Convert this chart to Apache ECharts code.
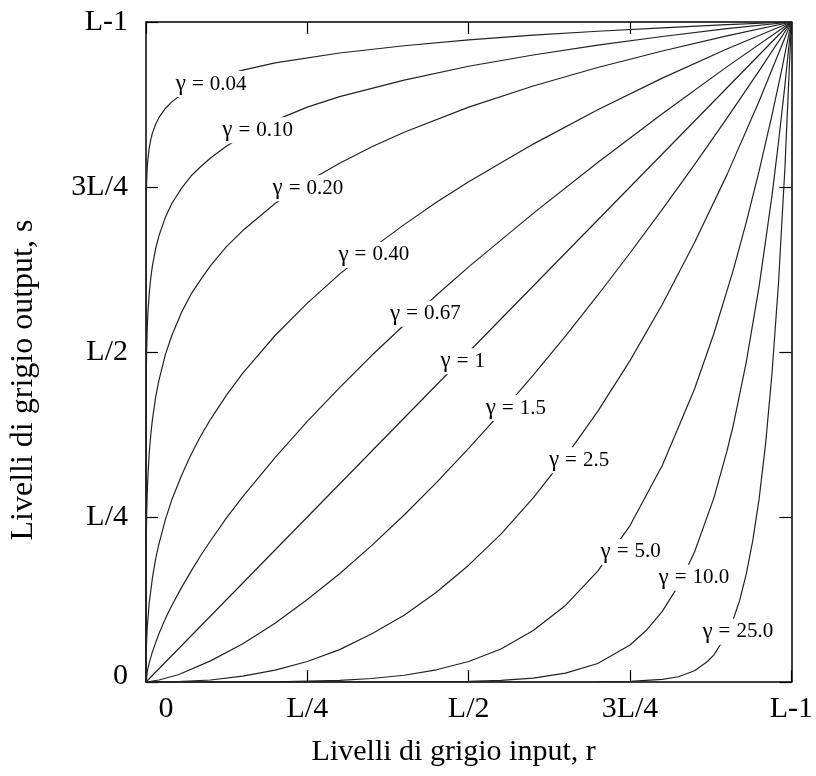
<!DOCTYPE html>
<html>
<head>
<meta charset="utf-8">
<script src="https://cdn.jsdelivr.net/npm/echarts@6/dist/echarts.min.js"></script>
<style>
  html, body { margin: 0; padding: 0; background: #fff; }
  #chart { width: 816px; height: 776px; }
</style>
</head>
<body>
<div id="chart"></div>
<script>
// tick labels (0 .. L-1)
const tickLabels = ['0', 'L/4', 'L/2', '3L/4', 'L-1']

// curves, [r, s] with r, s in 0..1 (1 = L-1)
const g004 = [[0, 0], [0.0005, 0.738], [0.001, 0.758], [0.002, 0.78], [0.003, 0.793], [0.005, 0.809], [0.0075, 0.822], [0.01, 0.832], [0.015, 0.845], [0.02, 0.855], [0.03, 0.869], [0.04, 0.879], [0.055, 0.89], [0.07, 0.899], [0.085, 0.906], [0.1, 0.912], [0.15, 0.927], [0.2, 0.938], [0.3, 0.953], [0.4, 0.964], [0.5, 0.973], [0.6, 0.98], [0.7, 0.986], [0.8, 0.991], [0.9, 0.996], [1, 1]]
const g010 = [[0, 0], [0.0005, 0.468], [0.001, 0.501], [0.002, 0.537], [0.003, 0.56], [0.005, 0.589], [0.0075, 0.613], [0.01, 0.631], [0.015, 0.657], [0.02, 0.676], [0.03, 0.704], [0.04, 0.725], [0.055, 0.748], [0.07, 0.767], [0.085, 0.781], [0.1, 0.794], [0.125, 0.812], [0.15, 0.827], [0.2, 0.851], [0.25, 0.871], [0.3, 0.887], [0.4, 0.912], [0.5, 0.933], [0.6, 0.95], [0.7, 0.965], [0.8, 0.978], [0.9, 0.99], [1, 1]]
const g020 = [[0, 0], [0.0005, 0.219], [0.001, 0.251], [0.002, 0.289], [0.003, 0.313], [0.005, 0.347], [0.0075, 0.376], [0.01, 0.398], [0.015, 0.432], [0.02, 0.457], [0.03, 0.496], [0.04, 0.525], [0.055, 0.56], [0.07, 0.588], [0.085, 0.61], [0.1, 0.631], [0.125, 0.66], [0.15, 0.684], [0.2, 0.725], [0.25, 0.758], [0.3, 0.786], [0.35, 0.811], [0.4, 0.833], [0.5, 0.871], [0.6, 0.903], [0.7, 0.931], [0.8, 0.956], [0.9, 0.979], [1, 1]]
const g040 = [[0, 0], [0.0005, 0.048], [0.001, 0.063], [0.002, 0.083], [0.005, 0.12], [0.01, 0.158], [0.015, 0.187], [0.02, 0.209], [0.03, 0.246], [0.04, 0.276], [0.055, 0.313], [0.07, 0.345], [0.085, 0.373], [0.1, 0.398], [0.125, 0.435], [0.15, 0.468], [0.2, 0.525], [0.25, 0.574], [0.3, 0.618], [0.35, 0.657], [0.4, 0.693], [0.45, 0.727], [0.5, 0.758], [0.6, 0.815], [0.7, 0.867], [0.8, 0.915], [0.9, 0.959], [1, 1]]
const g067 = [[0, 0], [0.002, 0.016], [0.005, 0.029], [0.01, 0.046], [0.02, 0.073], [0.03, 0.096], [0.04, 0.116], [0.055, 0.143], [0.07, 0.168], [0.085, 0.192], [0.1, 0.214], [0.125, 0.249], [0.15, 0.281], [0.2, 0.34], [0.25, 0.395], [0.3, 0.446], [0.35, 0.495], [0.4, 0.541], [0.45, 0.586], [0.5, 0.629], [0.6, 0.71], [0.7, 0.787], [0.8, 0.861], [0.9, 0.932], [1, 1]]
const g100 = [[0, 0], [0.5, 0.5], [1, 1]]
const g150 = [[0, 0], [0.02, 0.003], [0.05, 0.011], [0.1, 0.032], [0.15, 0.058], [0.2, 0.089], [0.25, 0.125], [0.3, 0.164], [0.35, 0.207], [0.4, 0.253], [0.45, 0.302], [0.5, 0.354], [0.55, 0.408], [0.6, 0.465], [0.65, 0.524], [0.7, 0.586], [0.75, 0.65], [0.8, 0.716], [0.85, 0.784], [0.9, 0.854], [0.95, 0.926], [1, 1]]
const g250 = [[0, 0], [0.05, 0.0006], [0.1, 0.003], [0.15, 0.009], [0.2, 0.018], [0.25, 0.031], [0.3, 0.049], [0.35, 0.073], [0.4, 0.101], [0.45, 0.136], [0.5, 0.177], [0.55, 0.224], [0.6, 0.279], [0.65, 0.341], [0.7, 0.41], [0.75, 0.487], [0.8, 0.572], [0.85, 0.666], [0.9, 0.768], [0.95, 0.88], [1, 1]]
const g500 = [[0, 0], [0.1, 0], [0.2, 0.0003], [0.3, 0.0024], [0.35, 0.0053], [0.4, 0.0102], [0.45, 0.0185], [0.5, 0.031], [0.55, 0.05], [0.6, 0.078], [0.65, 0.116], [0.7, 0.168], [0.75, 0.237], [0.8, 0.328], [0.85, 0.444], [0.88, 0.528], [0.91, 0.624], [0.93, 0.696], [0.95, 0.774], [0.97, 0.859], [0.985, 0.927], [1, 1]]
const g1000 = [[0, 0], [0.4, 0.0001], [0.5, 0.001], [0.55, 0.0025], [0.6, 0.006], [0.65, 0.0135], [0.7, 0.028], [0.75, 0.056], [0.775, 0.078], [0.8, 0.107], [0.825, 0.146], [0.85, 0.197], [0.88, 0.279], [0.9, 0.349], [0.91, 0.389], [0.93, 0.484], [0.95, 0.599], [0.97, 0.737], [0.98, 0.817], [0.99, 0.904], [1, 1]]
const g2500 = [[0, 0], [0.6, 0], [0.7, 0.0001], [0.75, 0.0008], [0.8, 0.004], [0.825, 0.008], [0.85, 0.017], [0.87, 0.031], [0.88, 0.041], [0.9, 0.072], [0.91, 0.095], [0.92, 0.124], [0.93, 0.163], [0.94, 0.213], [0.95, 0.277], [0.96, 0.36], [0.97, 0.467], [0.98, 0.603], [0.99, 0.778], [1, 1]]

const curves = [g004, g010, g020, g040, g067, g100, g150, g250, g500, g1000, g2500]

// gamma labels and where they sit
const gammaText = ['0.04', '0.10', '0.20', '0.40', '0.67', '1', '1.5', '2.5', '5.0', '10.0', '25.0']
const gammaPos = [[0.101, 0.906], [0.173, 0.836], [0.251, 0.748], [0.353, 0.647], [0.433, 0.558], [0.491, 0.486], [0.573, 0.415], [0.671, 0.336], [0.751, 0.197], [0.849, 0.158], [0.917, 0.076]]

let font = 'Liberation Serif',
  black = '#000',
  lineCol = '#222'

let chart = echarts.init(document.getElementById('chart'))

let axisBase = (extra) => Object.assign({
  type: 'value',
  min: 0,
  max: 1,
  interval: 0.25,
  splitLine: { show: false },
  axisLine: { show: true, onZero: false, lineStyle: { color: black, width: 1.5 } },
  axisTick: { show: true, inside: true, length: 12, lineStyle: { color: black, width: 1.2 } },
}, extra)

let fmt = (v) => tickLabels[Math.round(v * 4)]

chart.setOption({
  animation: false,
  backgroundColor: '#fff',
  grid: { left: 146, right: 16, top: 22, bottom: 94 },
  xAxis: [
    axisBase({
      position: 'bottom',
      name: 'Livelli di grigio input, r',
      nameLocation: 'middle',
      nameGap: 55,
      nameTextStyle: { fontFamily: font, fontSize: 30, color: black, padding: [0, 30, 0, 0] },
      axisLabel: {
        margin: 12,
        fontFamily: font,
        fontSize: 30,
        color: black,
        formatter: (v) => (v === 0 ? '{z|0}' : fmt(v)),
        rich: { z: { fontFamily: font, fontSize: 30, color: black, padding: [0, 0, 0, 40] } },
      },
    }),
    axisBase({ position: 'top', axisLabel: { show: false } }),
  ],
  yAxis: [
    axisBase({
      position: 'left',
      name: 'Livelli di grigio output, s',
      nameLocation: 'middle',
      nameGap: 106,
      // a bit larger and lower than centre, as in the original
      nameTextStyle: { fontFamily: font, fontSize: 32, color: black, padding: [0, 56, 0, 0] },
      axisLabel: {
        margin: 18,
        fontFamily: font,
        fontSize: 30,
        color: black,
        formatter: (v) => (v === 0 ? '{z|0}' : fmt(v)),
        rich: { z: { fontFamily: font, fontSize: 30, color: black, padding: [0, 0, 12, 0] } },
      },
    }),
    axisBase({ position: 'right', axisLabel: { show: false } }),
  ],
  series: curves.map((d) => ({
    type: 'line',
    data: d,
    symbol: 'none',
    lineStyle: { color: lineCol, width: 1.2 },
    z: 2,
  })).concat([{
    // white box under each label cuts the curve, like the gaps in the original
    type: 'scatter',
    symbol: 'rect',
    symbolSize: (v, p) => [48 + gammaText[p.dataIndex].length * 11, 26],
    itemStyle: { color: '#fff', opacity: 1 },
    data: gammaPos.map((p, i) => ({ value: p, name: gammaText[i] })),
    label: {
      show: true,
      position: 'inside',
      formatter: '{g|γ}\u2002{t|=}\u2002{t|{b}}',
      rich: {
        g: { fontFamily: font, fontSize: 23, color: black },
        t: { fontFamily: font, fontSize: 21, color: black },
      },
    },
    silent: true,
    z: 5,
  }]),
})
</script>
</body>
</html>
